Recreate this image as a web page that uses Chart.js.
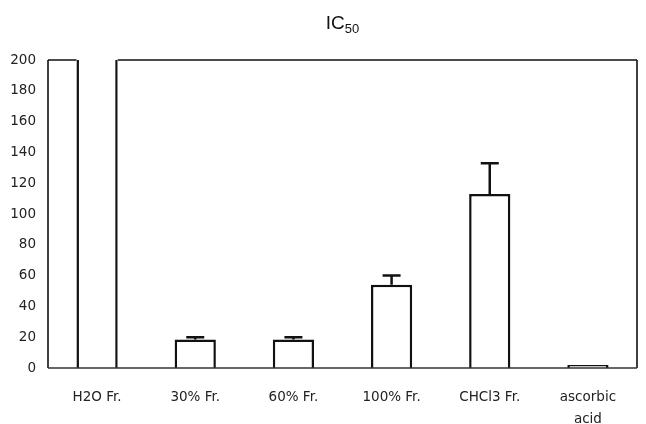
<!DOCTYPE html>
<html>
<head>
<meta charset="utf-8">
<script src="https://cdn.jsdelivr.net/npm/chart.js@4"></script>
<style>
  html, body { margin: 0; padding: 0; background: #fff; }
  #wrap { width: 646px; height: 424px; }
</style>
</head>
<body>
<div id="wrap"><canvas id="ic50Chart"></canvas></div>
<script>
// Data
const categories = ['H2O Fr.', '30% Fr.', '60% Fr.', '100% Fr.', 'CHCl3 Fr.', ['ascorbic', 'acid']];
const ic50Values = [260, 18.5, 18.5, 54, 113, 2];   // H2O Fr. runs off the top of the axis
const ic50Errors = [null, 1.5, 1.5, 6, 20, null];
const yTicks = [0, 20, 40, 60, 80, 100, 120, 140, 160, 180, 200];

const FONT = '"DejaVu Sans", Arial, sans-serif';
const TITLE_FONT = '"Liberation Sans", Arial, sans-serif';

// title with subscript, frame and upward error bars
const decorations = {
    id: 'decorations',
    afterDatasetsDraw(chart) {
        const ctx = chart.ctx;
        const area = chart.chartArea;
        const yScale = chart.scales.y;
        const meta = chart.getDatasetMeta(0);

        // error bars
        ctx.save();
        ctx.strokeStyle = '#111';
        ctx.lineWidth = 2.5;
        meta.data.forEach((bar, i) => {
            const err = ic50Errors[i];
            if (err == null) return;
            const top = yScale.getPixelForValue(ic50Values[i] + err);
            ctx.beginPath();
            ctx.moveTo(bar.x, bar.y);
            ctx.lineTo(bar.x, top);
            ctx.moveTo(bar.x - 9, top);
            ctx.lineTo(bar.x + 9, top);
            ctx.stroke();
        });
        ctx.restore();

        // frame: top line skips bars that run past the axis max
        ctx.save();
        ctx.strokeStyle = '#111';
        ctx.lineWidth = 1.6;
        ctx.beginPath();
        let x = area.left;
        meta.data.forEach((bar, i) => {
            if (ic50Values[i] > yScale.max) {
                ctx.moveTo(x, area.top);
                ctx.lineTo(bar.x - bar.width / 2, area.top);
                x = bar.x + bar.width / 2;
            }
        });
        ctx.moveTo(x, area.top);
        ctx.lineTo(area.right, area.top);
        ctx.moveTo(area.left, area.top);
        ctx.lineTo(area.left, area.bottom);
        ctx.moveTo(area.right, area.top);
        ctx.lineTo(area.right, area.bottom);
        ctx.stroke();
        ctx.strokeStyle = '#333';
        ctx.lineWidth = 1.4;
        ctx.beginPath();
        ctx.moveTo(area.left, area.bottom);
        ctx.lineTo(area.right, area.bottom);
        ctx.stroke();
        ctx.restore();

        // title IC50
        ctx.save();
        ctx.fillStyle = '#111';
        ctx.textBaseline = 'alphabetic';
        const main = 'IC', sub = '50';
        ctx.font = '19px ' + TITLE_FONT;
        const wMain = ctx.measureText(main).width;
        ctx.font = '13px ' + TITLE_FONT;
        const wSub = ctx.measureText(sub).width;
        const cx = (area.left + area.right) / 2;
        const x0 = cx - (wMain + wSub) / 2;
        ctx.font = '19px ' + TITLE_FONT;
        ctx.fillText(main, x0, 29);
        ctx.font = '13px ' + TITLE_FONT;
        ctx.fillText(sub, x0 + wMain, 33);
        ctx.restore();
    }
};

const ctx = document.getElementById('ic50Chart');
new Chart(ctx, {
    type: 'bar',
    data: {
        labels: categories,
        datasets: [{
            label: 'IC50',
            data: ic50Values,
            backgroundColor: '#ffffff',
            borderColor: '#111111',
            borderWidth: 2.5,
            borderSkipped: 'bottom',
            barPercentage: 0.42,
            categoryPercentage: 1.0,
            clip: { left: 5, right: 5, top: 0, bottom: 5 }
        }]
    },
    options: {
        responsive: true,
        maintainAspectRatio: false,
        animation: false,
        layout: { padding: { top: 60, right: 9, left: 0, bottom: 0 } },
        plugins: {
            legend: { display: false },
            title: { display: false },
            tooltip: { enabled: false }
        },
        scales: {
            x: {
                grid: { display: false },
                border: { display: false },
                ticks: {
                    color: '#222',
                    padding: 10,
                    maxRotation: 0,
                    autoSkip: false,
                    font: { family: FONT, size: 13.5, lineHeight: 1.65 }
                },
                afterFit(scale) { scale.height = 56; }
            },
            y: {
                min: 0,
                max: 200,
                afterBuildTicks(scale) { scale.ticks = yTicks.map(v => ({ value: v })); },
                grid: { display: false },
                border: { display: false },
                ticks: {
                    color: '#222',
                    padding: 4,
                    font: { family: FONT, size: 13.5 }
                },
                afterFit(scale) { scale.width = 48; }
            }
        }
    },
    plugins: [decorations]
});
</script>
</body>
</html>
